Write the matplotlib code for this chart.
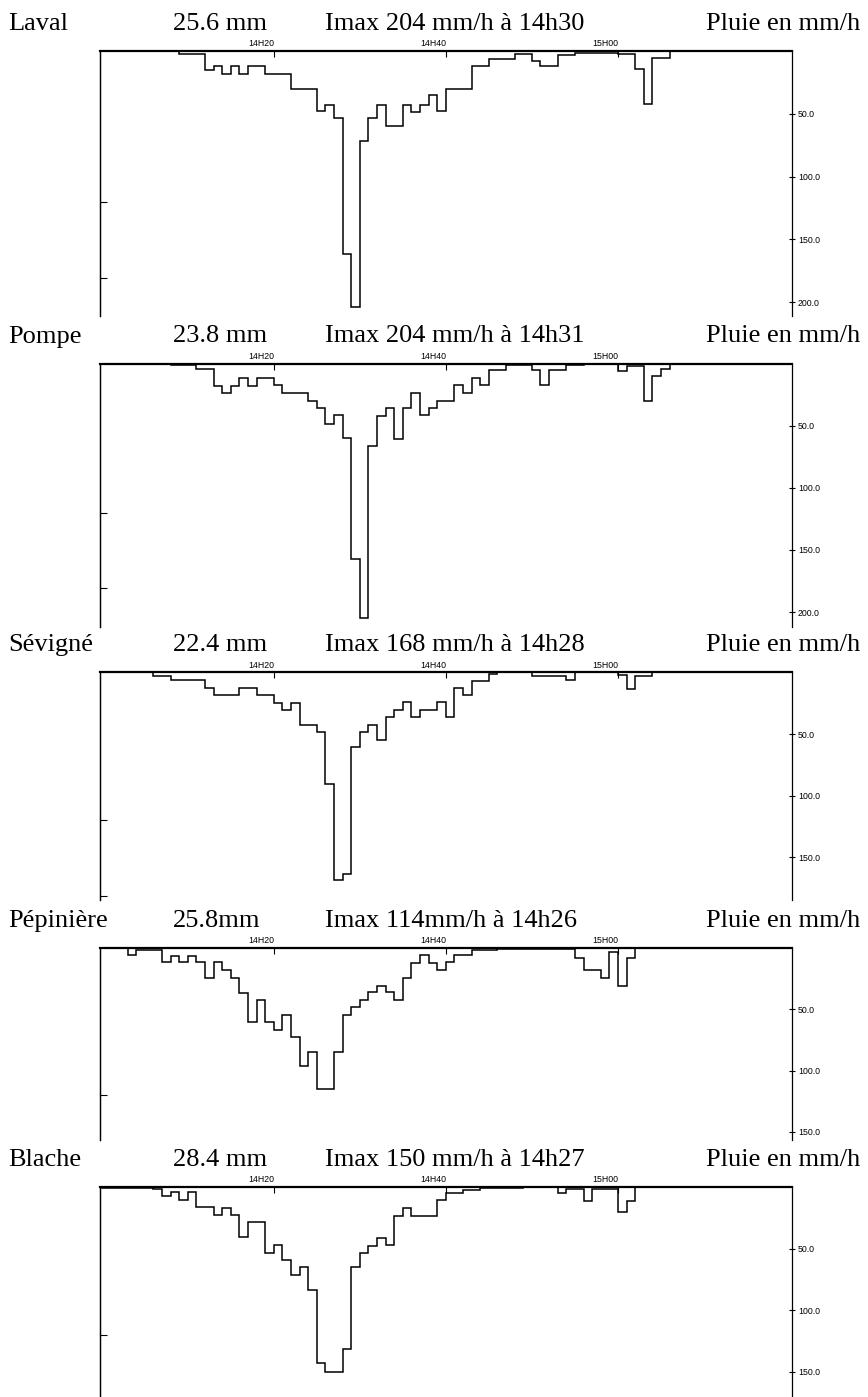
import numpy as np
import matplotlib
matplotlib.use("Agg")
import matplotlib.pyplot as plt

# Hyetogrammes, pluie en mm/h au pas de 1 minute, minute 0 = 14H00
stations = ["Laval", "Pompe", "Sévigné", "Pépinière", "Blache"]
cumuls = ["25.6 mm", "23.8 mm", "22.4 mm", "25.8mm", "28.4 mm"]
imax_labels = ["Imax 204 mm/h à 14h30", "Imax 204 mm/h à 14h31",
               "Imax 168 mm/h à 14h28", "Imax 114mm/h à 14h26",
               "Imax 150 mm/h à 14h27"]

laval_start = 9
laval = [2.1, 2.1, 2.1, 15.3, 11.9, 18.5, 11.9, 18.5, 11.9, 11.9,
         18.0, 18.0, 18.0, 30.4, 30.4, 30.4, 47.9, 42.6, 53.7, 161.6,
         203.7, 71.7, 53.7, 42.6, 59.8, 59.8, 42.6, 48.4, 42.6, 35.4,
         47.9, 30.4, 30.4, 30.4, 12.2, 12.2, 6.1, 6.1, 6.1, 2.1,
         2.1, 8.2, 12.2, 12.2, 3.4, 3.4, 1.3, 1.3, 1.3, 1.3,
         1.3, 2.1, 2.1, 14.0, 42.3, 5.6, 5.6]

pompe_start = 8
pompe = [1.6, 1.6, 1.6, 4.6, 4.6, 18.0, 23.9, 18.0, 11.3, 18.0,
         11.3, 11.3, 17.2, 23.6, 23.6, 23.6, 30.0, 35.9, 48.3, 41.8,
         60.0, 157.4, 204.8, 66.0, 42.1, 35.9, 60.6, 35.9, 23.9, 41.8,
         35.9, 30.0, 30.0, 17.7, 23.9, 11.3, 17.7, 5.6, 5.6, 1.1,
         1.1, 1.1, 5.1, 17.2, 5.6, 5.6, 1.6, 1.6, 0.3, 0.3,
         0.3, 0.3, 5.9, 2.1, 2.1, 30.0, 10.4, 4.3]

sevigne_start = 6
sevigne = [3.2, 3.2, 6.5, 6.5, 6.5, 6.5, 12.7, 18.6, 18.6, 18.6,
           12.7, 12.7, 18.6, 18.6, 24.6, 30.8, 24.6, 43.0, 43.0, 48.6,
           90.5, 168.6, 163.2, 60.5, 48.6, 42.4, 54.6, 36.5, 30.3, 24.3,
           36.5, 30.3, 30.3, 24.3, 36.5, 12.7, 18.6, 6.8, 6.8, 1.4,
           0.0, 0.0, 0.0, 0.0, 2.7, 2.7, 2.7, 2.7, 6.5, 0.0,
           0.0, 0.0, 0.0, 0.0, 2.4, 13.5, 3.2, 3.2]

pepiniere_start = 3
pepiniere = [5.8, 2.0, 2.0, 2.0, 11.7, 6.4, 11.7, 6.4, 11.7, 24.5,
             11.7, 17.7, 24.5, 36.7, 60.6, 42.7, 60.6, 66.6, 54.9, 72.5,
             96.5, 84.8, 114.7, 114.7, 84.8, 54.9, 48.4, 42.1, 36.1, 30.7,
             36.1, 42.1, 24.5, 12.2, 5.8, 12.2, 18.2, 11.7, 5.8, 5.8,
             2.0, 2.0, 2.0, 0.5, 0.5, 0.5, 0.5, 0.5, 0.5, 0.5,
             1.2, 1.2, 8.0, 18.0, 18.0, 24.5, 3.0, 30.7, 8.0]

blache_start = 0
blache = [0.8, 0.8, 0.8, 0.8, 0.8, 0.8, 1.6, 7.6, 4.3, 10.3,
          4.3, 16.5, 16.5, 23.0, 17.0, 23.0, 40.9, 28.7, 28.7, 53.7,
          47.4, 59.0, 71.3, 65.0, 83.5, 143.0, 150.0, 150.0, 131.7, 65.0,
          53.7, 47.7, 41.5, 47.4, 23.3, 17.0, 23.3, 23.3, 23.3, 10.8,
          4.6, 4.6, 2.2, 2.2, 0.8, 0.8, 0.8, 0.8, 0.8, 0.0,
          0.0, 0.0, 0.0, 4.9, 1.4, 1.4, 11.4, 1.4, 1.4, 1.4,
          20.3, 11.4]

starts = [laval_start, pompe_start, sevigne_start, pepiniere_start, blache_start]
series = [laval, pompe, sevigne, pepiniere, blache]

time_ticks = [20, 40, 60]
time_labels = ["14H20", "14H40", "15H00"]
rain_ticks = [50, 100, 150, 200]
left_ticks = [120, 181]

# mise en page en pixels : haut du cadre, bas du cadre, profondeur d'echelle (mm/h)
W, H = 868, 1397
X0, X1 = 100, 791.7
panel_top = [51, 363.5, 672.3, 948, 1187]
panel_bottom = [316, 627, 900, 1140, 1410]
panel_depth = [211, 212, 184.5, 156.6, 181]

serif = ["Liberation Serif", "DejaVu Serif"]
sans = ["Liberation Sans", "DejaVu Sans"]

fig = plt.figure(figsize=(W / 100, H / 100), dpi=100)

for i in range(len(stations)):
    top, bot = panel_top[i], panel_bottom[i]
    ax = fig.add_axes([X0 / W, 1 - bot / H, (X1 - X0) / W, (bot - top) / H])

    vals = np.array(series[i])
    edges = np.arange(starts[i], starts[i] + len(vals) + 1)
    ax.stairs(vals, edges, baseline=0, color="black", lw=1.1)

    ax.set_xlim(-0.2, 80.2)
    ax.set_ylim(panel_depth[i], 0)

    # axe du temps en haut
    ax.xaxis.tick_top()
    ax.set_xticks(time_ticks)
    ax.set_xticklabels(time_labels, family=sans, fontsize=6.3)
    for lbl in ax.get_xticklabels():
        lbl.set_ha("right")
    ax.tick_params(axis="x", direction="in", length=4, width=0.8, pad=2)

    # echelle de pluie a droite
    yt = [v for v in rain_ticks if v < panel_depth[i]]
    ax.yaxis.tick_right()
    ax.set_yticks(yt)
    ax.set_yticklabels([f"{v:.1f}" for v in yt], family=sans, fontsize=6.3)
    ax.tick_params(axis="y", direction="inout", length=5, width=0.8, pad=2)

    # graduations sans valeurs a gauche
    sec = ax.secondary_yaxis("left")
    sec.set_yticks([v for v in left_ticks if v < panel_depth[i]])
    sec.set_yticklabels([])
    sec.tick_params(direction="in", length=5, width=0.8)
    sec.spines["left"].set_linewidth(0.9)

    ax.spines["bottom"].set_visible(False)
    ax.spines["left"].set_linewidth(0.9)
    ax.spines["right"].set_linewidth(0.9)
    ax.spines["top"].set_linewidth(1.6)

    # titres de la station
    yb = 1 - (top - 21) / H
    fig.text(8 / W, yb, stations[i], family=serif, fontsize=19, va="baseline")
    fig.text(173 / W, yb, cumuls[i], family=serif, fontsize=19, va="baseline")
    fig.text(325 / W, yb, imax_labels[i], family=serif, fontsize=19, va="baseline")
    fig.text(706 / W, yb, "Pluie en mm/h", family=serif, fontsize=19, va="baseline")

fig.savefig("out.png", dpi=100)
